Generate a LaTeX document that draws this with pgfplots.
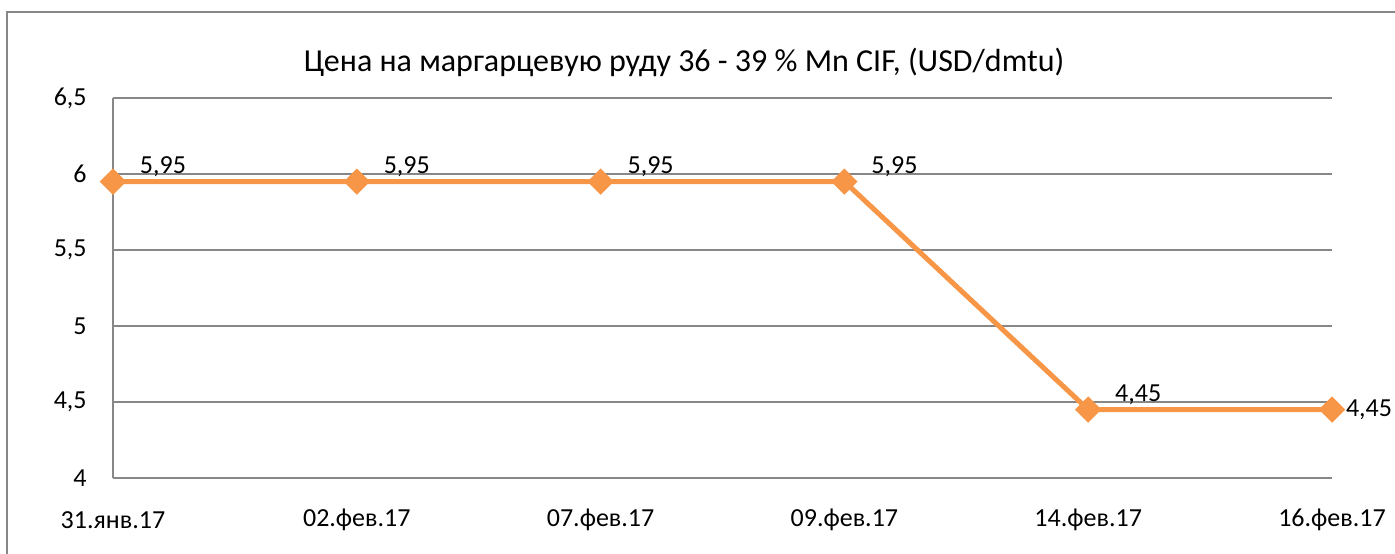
\documentclass[border=0pt]{standalone}
\usepackage{pgfplots}
\pgfplotsset{compat=1.18}
\usepackage{fontspec}
\setmainfont{Carlito}
\definecolor{lineor}{HTML}{F79646}
\definecolor{gridg}{HTML}{878787}
\begin{document}
\begin{tikzpicture}[x=1pt,y=1pt]
\path[use as bounding box] (0,0) rectangle (697.5,-276.5);
\clip (0,0) rectangle (697.5,-276.5);
\draw[gridg, line width=1.1pt] (3.5,-300) -- (3.5,-6) -- (720,-6);
\node[font=\fontsize{16}{18}\selectfont, anchor=center] at (342,-31) {Цена на маргарцевую руду 36 - 39 \% Mn CIF, (USD/dmtu)};
\begin{axis}[
  at={(56.5pt,-239pt)}, anchor=south west,
  scale only axis, width=609.5pt, height=190pt,
  xmin=0, xmax=5, ymin=4, ymax=6.5,
  xtick={0,1,2,3,4,5},
  xticklabels={31.янв.17,02.фев.17,07.фев.17,09.фев.17,14.фев.17,16.фев.17},
  ytick={4,4.5,5,5.5,6,6.5},
  /pgf/number format/.cd, use comma, fixed, assume math mode=true, /pgfplots/.cd,
  axis x line=bottom, axis y line=left,
  axis line style={gridg, line width=1pt, -},
  ymajorgrids, grid style={gridg, line width=1pt},
  major tick length=0pt,
  tick label style={font=\fontsize{13}{15}\selectfont, inner sep=0pt},
  yticklabel style={anchor=east, xshift=-13pt},
  xticklabel style={anchor=center, yshift=-21pt},
  clip=false,
]
\addplot[lineor, line width=2.5pt, mark=square*, mark size=3.4pt, mark options={rotate=45, fill=lineor, draw=none}]
  coordinates {(0,5.95) (1,5.95) (2,5.95) (3,5.95) (4,4.45) (5,4.45)};
\addplot[draw=none, mark=none, nodes near coords, point meta=explicit symbolic,
  every node near coord/.append style={anchor=center, inner sep=0pt, xshift=25pt, yshift=7.5pt, font=\fontsize{13}{15}\selectfont, text=black}]
  coordinates {(0,5.95) [5,95] (1,5.95) [5,95] (2,5.95) [5,95] (3,5.95) [5,95] (4,4.45) [4,45]};
\addplot[draw=none, mark=none, nodes near coords, point meta=explicit symbolic,
  every node near coord/.append style={anchor=center, inner sep=0pt, xshift=18.5pt, yshift=0pt, font=\fontsize{13}{15}\selectfont, text=black}]
  coordinates {(5,4.45) [4,45]};
\end{axis}
\end{tikzpicture}
\end{document}
